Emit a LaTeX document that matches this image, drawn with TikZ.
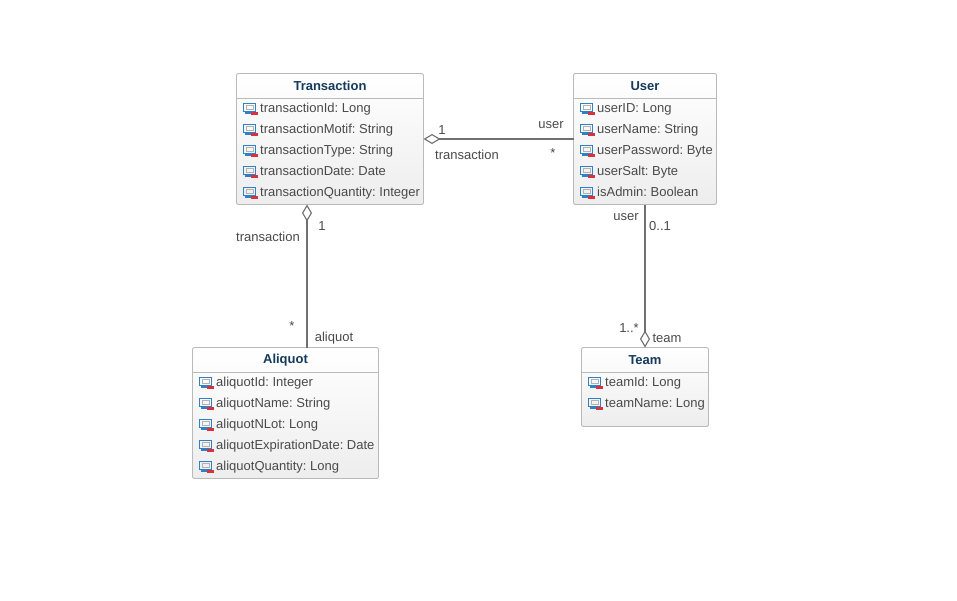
\documentclass[tikz,border=0pt]{standalone}
\usepackage{fontspec}
\setmainfont{Liberation Sans}
\usetikzlibrary{arrows.meta}
\definecolor{boxline}{HTML}{BABABA}
\definecolor{titleblue}{HTML}{153A5C}
\definecolor{textgrey}{HTML}{4A4A4A}
\definecolor{lineGrey}{HTML}{707070}
\definecolor{iconblue}{HTML}{2F80C4}
\definecolor{iconred}{HTML}{D8323C}
\tikzset{
    classbox/.style={draw=boxline, rounded corners=2pt, top color=white, bottom color=black!7, inner sep=0pt, outer sep=0pt, line width=0.9pt},
    classtitle/.style={anchor=north, inner sep=0pt, outer sep=0pt, minimum height=24.5pt, text=titleblue, font=\fontsize{13}{15}\selectfont\bfseries},
    attrtext/.style={anchor=base west, inner sep=0pt, text=textgrey, font=\fontsize{13}{15}\selectfont},
    endlabel/.style={inner sep=0pt, text=textgrey, font=\fontsize{13}{15}\selectfont},
    headline/.style={draw=boxline, line width=0.9pt},
    aggregation/.style={lineGrey, line width=2.2pt, {Diamond[open, length=17pt, width=10pt, line width=1.1pt]}-},
    attricon/.pic={
        \draw[iconblue, line width=1.3pt] (-16.5,-8.5) rectangle (-4.5,-0.5);
        \draw[black!30, line width=0.7pt] (-14,-6.5) rectangle (-7,-2.5);
        \draw[iconblue, line width=1.2pt] (-15,1) -- (-9,1);
        \fill[iconred] (-8.7,0) rectangle (-2,3);
    }
}
\begin{document}
\frenchspacing
\begin{tikzpicture}[x=1pt,y=-1pt]
    \useasboundingbox[fill=white] (0,0) rectangle (957,600);

    % Class boxes
    \node[classbox, minimum width=187pt, minimum height=131pt] (transaction) at (330,139) {};
    \node[classbox, minimum width=143pt, minimum height=131pt] (user) at (645,139) {};
    \node[classbox, minimum width=186pt, minimum height=131pt] (aliquot) at (285.5,413) {};
    \node[classbox, minimum width=127pt, minimum height=79pt] (team) at (645,387) {};

    % Titles and the line below them
    \node[classtitle, minimum width=187pt] (transactionTitle) at (transaction.north) {Transaction};
    \node[classtitle, minimum width=143pt] (userTitle) at (user.north) {User};
    \node[classtitle, minimum width=186pt] (aliquotTitle) at (aliquot.north) {Aliquot};
    \node[classtitle, minimum width=127pt] (teamTitle) at (team.north) {Team};
    \foreach \c in {transactionTitle,userTitle,aliquotTitle,teamTitle} {
        \draw[headline] (\c.south west) -- (\c.south east);
    }

    % Attributes
    \foreach \txt [count=\i] in {transactionId: Long,transactionMotif: String,transactionType: String,transactionDate: Date,transactionQuantity: Integer} {
        \pic at (260,{91+21*\i}) {attricon};
        \node[attrtext] (transactionAttr\i) at (260,{91.5+21*\i}) {\txt};
    }
    \foreach \txt [count=\i] in {userID: Long,userName: String,userPassword: Byte,userSalt: Byte,isAdmin: Boolean} {
        \pic at (597,{91+21*\i}) {attricon};
        \node[attrtext] (userAttr\i) at (597,{91.5+21*\i}) {\txt};
    }
    \foreach \txt [count=\i] in {aliquotId: Integer,aliquotName: String,aliquotNLot: Long,aliquotExpirationDate: Date,aliquotQuantity: Long} {
        \pic at (216,{365+21*\i}) {attricon};
        \node[attrtext] (aliquotAttr\i) at (216,{365.5+21*\i}) {\txt};
    }
    \foreach \txt [count=\i] in {teamId: Long,teamName: Long} {
        \pic at (605,{365+21*\i}) {attricon};
        \node[attrtext] (teamAttr\i) at (605,{365.5+21*\i}) {\txt};
    }

    % Connectors
    \coordinate (transactionFoot) at (307,204.5);
    \coordinate (aliquotHead) at (307,347.5);
    \draw[aggregation] (transaction.east) -- (user.west);
    \draw[aggregation] (transactionFoot) -- (aliquotHead);
    \draw[aggregation] (team.north) -- (user.south);

    % Labels at the line ends
    \node[endlabel] (lblOne) at (442,130) {1};
    \node[endlabel] (lblTransaction) at (467,155) {transaction};
    \node[endlabel] (lblUser) at (551,125) {user};
    \node[endlabel] (lblStar) at (553,153) {*};
    \node[endlabel] (lblTransactionB) at (268,237) {transaction};
    \node[endlabel] (lblOneB) at (322,226) {1};
    \node[endlabel] (lblStarB) at (292,326) {*};
    \node[endlabel] (lblAliquot) at (334,338) {aliquot};
    \node[endlabel] (lblUserB) at (626,217) {user};
    \node[endlabel] (lblZeroOne) at (660,226) {0..1};
    \node[endlabel] (lblOneMany) at (629,328) {1..*};
    \node[endlabel] (lblTeam) at (667,338) {team};
\end{tikzpicture}
\end{document}
